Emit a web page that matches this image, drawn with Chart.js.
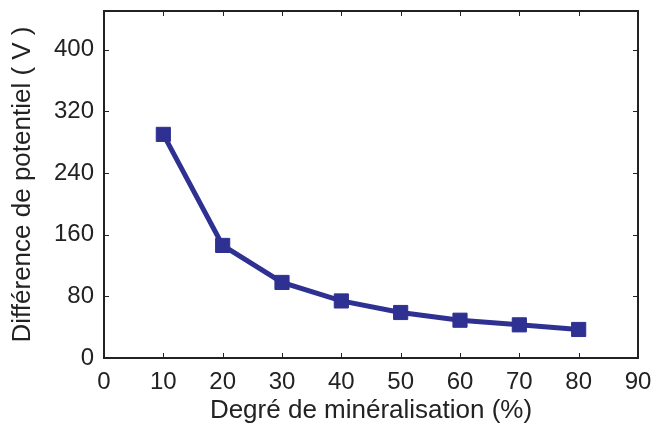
<!DOCTYPE html>
<html>
<head>
<meta charset="utf-8">
<script src="https://cdn.jsdelivr.net/npm/chart.js@4"></script>
<style>
  html, body { margin: 0; padding: 0; background: #fff; }
  #box { width: 652px; height: 428px; }
</style>
</head>
<body>
<div id="box"><canvas id="chart" width="652" height="428"></canvas></div>
<script>
// ----------------------------
// données
// ----------------------------

const mineralisation = [10, 20, 30, 40, 50, 60, 70, 80];
const potentiel = [290, 146, 98, 74, 59, 49, 43, 37];

const xTicks = [0, 10, 20, 30, 40, 50, 60, 70, 80, 90];
const yTicks = [0, 80, 160, 240, 320, 400];

const xTitle = "Degré de minéralisation (%)";
const yTitle = "Différence de potentiel ( V )";

const ink = "#222222";
const blue = "#2e3192";
const font = "'Liberation Sans', Arial, Helvetica, sans-serif";

// ----------------------------
// cadre + graduations vers l'intérieur
// ----------------------------

const boxTicks = {
  id: "boxTicks",
  beforeDatasetsDraw(chart) {
    const { ctx, chartArea: a } = chart;
    const xs = chart.scales.x, ys = chart.scales.y;
    const len = 5;
    ctx.save();
    ctx.strokeStyle = ink;
    ctx.lineWidth = 1;
    ctx.beginPath();
    xTicks.forEach(v => {
      const px = Math.round(xs.getPixelForValue(v)) + 0.5;
      ctx.moveTo(px, a.bottom); ctx.lineTo(px, a.bottom - len);
      ctx.moveTo(px, a.top); ctx.lineTo(px, a.top + len);
    });
    yTicks.forEach(v => {
      const py = Math.round(ys.getPixelForValue(v)) + 0.5;
      ctx.moveTo(a.left, py); ctx.lineTo(a.left + len, py);
      ctx.moveTo(a.right, py); ctx.lineTo(a.right - len, py);
    });
    ctx.stroke();
    ctx.lineWidth = 2;
    ctx.strokeRect(a.left, a.top, a.right - a.left, a.bottom - a.top);
    ctx.restore();
  }
};

// ----------------------------
// graphique
// ----------------------------

new Chart(document.getElementById("chart"), {
  type: "line",
  data: {
    datasets: [{
      data: mineralisation.map((x, i) => ({ x: x, y: potentiel[i] })),
      borderColor: blue,
      backgroundColor: blue,
      borderWidth: 5,
      pointStyle: "rect",
      pointRadius: 10,
      pointBorderWidth: 1,
      pointBackgroundColor: blue,
      pointBorderColor: blue,
      tension: 0
    }]
  },
  options: {
    responsive: false,
    animation: false,
    layout: { padding: { top: 8, right: 14, bottom: 0, left: 0 } },
    plugins: { legend: { display: false }, tooltip: { enabled: false } },
    scales: {
      x: {
        type: "linear",
        min: 0,
        max: 90,
        afterBuildTicks: s => { s.ticks = xTicks.map(v => ({ value: v })); },
        afterFit: s => { s.height = 70; s.paddingLeft = 0; s.paddingRight = 0; },
        grid: { display: false, drawTicks: false },
        border: { display: false },
        ticks: { color: ink, padding: 10, font: { family: font, size: 24 }, maxRotation: 0 },
        title: { display: true, text: xTitle, color: ink, padding: { top: 0, bottom: 2 },
                 font: { family: font, size: 26 } }
      },
      y: {
        min: 0,
        max: 450,
        afterBuildTicks: s => { s.ticks = yTicks.map(v => ({ value: v })); },
        afterFit: s => { s.width = 104; s.paddingTop = 0; s.paddingBottom = 0; },
        grid: { display: false, drawTicks: false },
        border: { display: false },
        ticks: { color: ink, padding: 10, font: { family: font, size: 24 } },
        title: { display: true, text: yTitle, color: ink, padding: { top: 7, bottom: 0 },
                 font: { family: font, size: 26 } }
      }
    }
  },
  plugins: [boxTicks]
});
</script>
</body>
</html>
